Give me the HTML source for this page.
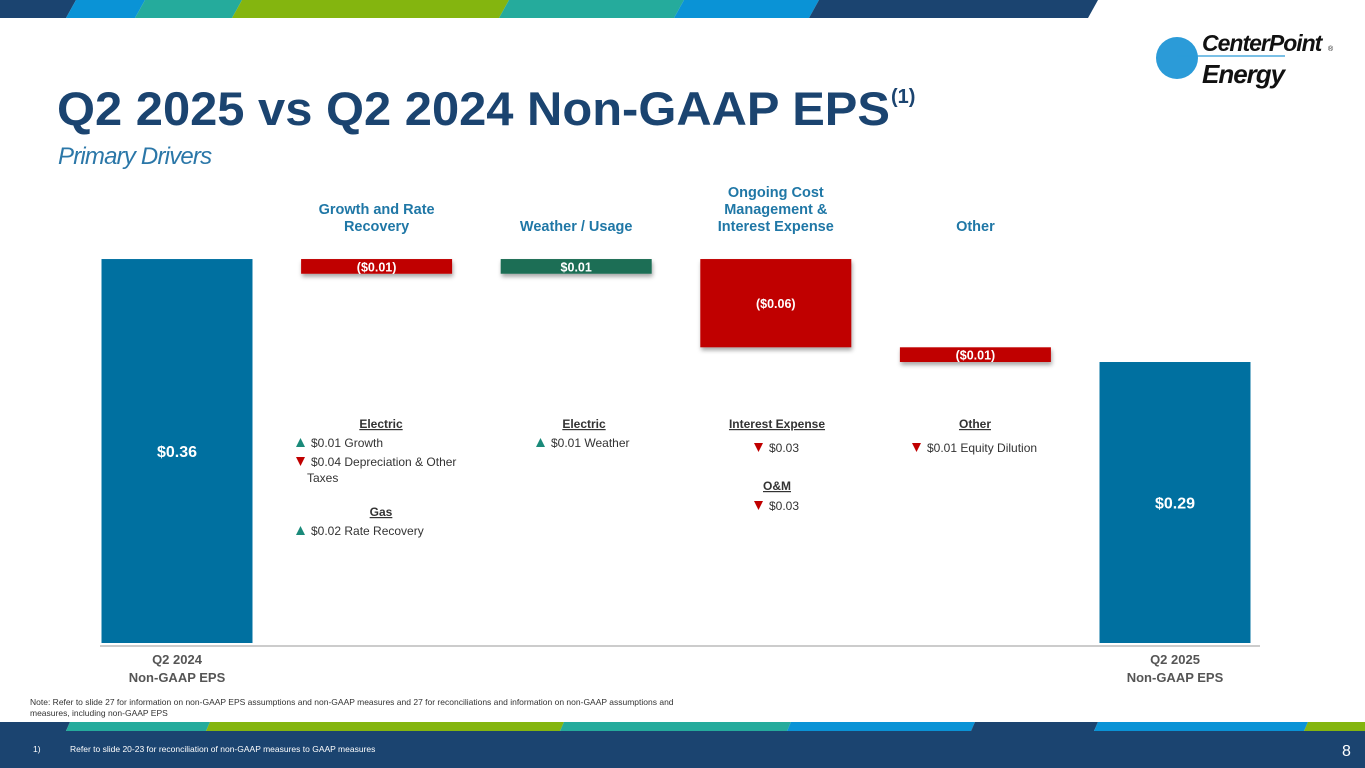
<!DOCTYPE html>
<html><head><meta charset="utf-8"><style>
html,body{margin:0;padding:0;background:#fff;}
svg{display:block;font-family:"Liberation Sans",Arial,sans-serif;}
</style></head><body>
<svg id="s" width="1365" height="768" viewBox="0 0 1365 768" xmlns="http://www.w3.org/2000/svg">
<g>
<polygon points="0,0 76,0 66,18 0,18" fill="#1b4470"/>
<polygon points="76,0 145,0 135,18 66,18" fill="#0a93d6"/>
<polygon points="145,0 242,0 232,18 135,18" fill="#25ab9c"/>
<polygon points="242,0 509,0 499,18 232,18" fill="#84b50f"/>
<polygon points="509,0 684,0 674,18 499,18" fill="#25ab9c"/>
<polygon points="684,0 819,0 809,18 674,18" fill="#0a93d6"/>
<polygon points="819,0 1098,0 1088,18 809,18" fill="#1b4470"/>
</g>
<g>
<circle cx="1177" cy="58" r="21" fill="#2b9bd8"/>
<line x1="1177" y1="56" x2="1285" y2="56" stroke="#2b9bd8" stroke-width="1.2"/>
<text x="1202" y="51" font-size="23" font-weight="bold" font-style="italic" fill="#111" letter-spacing="-1">CenterPoint</text>
<text x="1328" y="51" font-size="7" fill="#111">®</text>
<text x="1202" y="83" font-size="26" font-weight="bold" font-style="italic" fill="#111" letter-spacing="-1">Energy</text>
</g>
<text x="57" y="125" font-size="47" font-weight="bold" fill="#1b4470" textLength="833" lengthAdjust="spacingAndGlyphs">Q2 2025 vs Q2 2024 Non-GAAP EPS</text>
<text x="891" y="103" font-size="20" font-weight="bold" fill="#1b4470">(1)</text>
<text x="58" y="164" font-size="24" font-style="italic" fill="#2b77a8" letter-spacing="-0.8">Primary Drivers</text>
<g id="chart"></g>
<g>
<rect x="0" y="731" width="1365" height="37" fill="#1b4470"/>
<polygon points="0,722 70,722 66,731 0,731" fill="#1b4470"/>
<polygon points="70,722 210,722 206,731 66,731" fill="#25ab9c"/>
<polygon points="210,722 564,722 560,731 206,731" fill="#84b50f"/>
<polygon points="564,722 791,722 787,731 560,731" fill="#25ab9c"/>
<polygon points="791,722 975,722 971,731 787,731" fill="#0a93d6"/>
<polygon points="975,722 1098,722 1094,731 971,731" fill="#1b4470"/>
<polygon points="1098,722 1308,722 1304,731 1094,731" fill="#0a93d6"/>
<polygon points="1308,722 1365,722 1365,731 1304,731" fill="#84b50f"/>
</g>
<text font-size="8.5" fill="#333"><tspan x="30" y="705">Note: Refer to slide 27 for information on non-GAAP EPS assumptions and non-GAAP measures and 27 for reconciliations and information on non-GAAP assumptions and</tspan><tspan x="30" y="716">measures, including non-GAAP EPS</tspan></text>
<text x="33" y="752" font-size="8.5" fill="#fff">1)<tspan x="70">Refer to slide 20-23 for reconciliation of non-GAAP measures to GAAP measures</tspan></text>
<text x="1342" y="756" font-size="16" fill="#fff">8</text>
</svg>
<script>
const categories = ["Q2 2024 Non-GAAP EPS","Growth and Rate Recovery","Weather / Usage","Ongoing Cost Management & Interest Expense","Other","Q2 2025 Non-GAAP EPS"];
const startValue = 0.36;
const deltas = [-0.01, 0.01, -0.06, -0.01];
const endValue = 0.29;
const totalLabels = ["$0.36","$0.29"];
const deltaLabels = ["($0.01)","$0.01","($0.06)","($0.01)"];

const NS="http://www.w3.org/2000/svg";
const g=document.getElementById('chart');
function y(v){return 788.6 - v*1471;}
function x(i){return 177 + i*199.6;}
const bw=151;
function el(tag,attrs,parent){const e=document.createElementNS(NS,tag);for(const k in attrs)e.setAttribute(k,attrs[k]);(parent||g).appendChild(e);return e;}
function txt(s,attrs){const t=el('text',attrs);t.textContent=s;return t;}
const defs=el('defs',{});
const f=el('filter',{id:'sh',x:'-10%',y:'-30%',width:'130%',height:'190%'},defs);
el('feDropShadow',{dx:'1',dy:'3',stdDeviation:'2','flood-color':'#000','flood-opacity':'0.35'},f);

const base=643;
// axis line
const ax=el('line',{x1:100,y1:646,x2:1260,y2:646,stroke:'#999','stroke-width':1});



// start bar
let r=el('rect',{x:x(0)-bw/2,y:y(startValue),width:bw,height:base-y(startValue),fill:'#0070a0'});


let t=txt(totalLabels[0],{x:x(0),y:(y(startValue)+base)/2+6,'text-anchor':'middle','font-size':16,'font-weight':'bold',fill:'#fff'});



let cum=startValue;
deltas.forEach((d,i)=>{
  const a=cum, b=cum+d; cum=b;
  const top=y(Math.max(a,b)), bot=y(Math.min(a,b));
  const rr=el('rect',{x:x(i+1)-bw/2,y:top,width:bw,height:bot-top,fill:d<0?'#c00000':'#1e6e55',filter:'url(#sh)'});
  
  
  const tt=txt(deltaLabels[i],{x:x(i+1),y:(top+bot)/2+5,'text-anchor':'middle','font-size':12.5,'font-weight':'bold',fill:'#fff'});
  
  
});

r=el('rect',{x:x(5)-bw/2,y:y(endValue),width:bw,height:base-y(endValue),fill:'#0070a0'});


t=txt(totalLabels[1],{x:x(5),y:(y(endValue)+base)/2+6,'text-anchor':'middle','font-size':16,'font-weight':'bold',fill:'#fff'});



// category headers
const headers=[[],["Growth and Rate","Recovery"],["Weather / Usage"],["Ongoing Cost","Management &","Interest Expense"],["Other"],[]];
headers.forEach((lines,i)=>{
  if(!lines.length)return;
  const h=el('text',{'text-anchor':'middle','font-size':14.5,'font-weight':'bold',fill:'#1f77a6'});
  
  
  const start=231-(lines.length-1)*17;
  lines.forEach((l,k)=>{const s=el('tspan',{x:x(i),y:start+k*17},h);s.textContent=l;});
});
// x labels
[[0,"Q2 2024","Non-GAAP EPS"],[5,"Q2 2025","Non-GAAP EPS"]].forEach(([i,a,b])=>{
  const h=el('text',{'text-anchor':'middle','font-size':13,'font-weight':'bold',fill:'#555'});
  
  
  const s1=el('tspan',{x:x(i),y:664},h);s1.textContent=a;
  const s2=el('tspan',{x:x(i),y:682},h);s2.textContent=b;
});

// detail text
function head(s,cx,yy,name){const h=txt(s,{x:cx,y:yy,'text-anchor':'middle','font-size':12,'font-weight':'bold',fill:'#333','text-decoration':'underline'});}
function item(up,s,xx,yy,name){
  const tri=up?el('polygon',{points:`${xx},${yy} ${xx+9},${yy} ${xx+4.5},${yy-9}`,fill:'#1a8a7a'}):el('polygon',{points:`${xx},${yy-9} ${xx+9},${yy-9} ${xx+4.5},${yy}`,fill:'#c00000'});
  
  
  const h=txt(s,{x:xx+15,y:yy,'font-size':12,fill:'#333','xml:space':'preserve'});
  
  
}
head("Electric",381,428,'detail-electric-growth');
item(true,"$0.01  Growth",296,447,'detail-growth');
item(false,"$0.04 Depreciation & Other",296,466,'detail-depreciation');
t=txt("Taxes",{x:307,y:482,'font-size':12,fill:'#333'});
head("Gas",381,516,'detail-gas');
item(true,"$0.02 Rate Recovery",296,535,'detail-rate-recovery');
head("Electric",584,428,'detail-electric-weather');
item(true,"$0.01 Weather",536,447,'detail-weather');
head("Interest Expense",777,428,'detail-interest-expense');
item(false,"$0.03",754,452,'detail-interest-value');
head("O&M",777,490,'detail-om');
item(false,"$0.03",754,510,'detail-om-value');
head("Other",975,428,'detail-other');
item(false,"$0.01 Equity Dilution",912,452,'detail-equity-dilution');
</script>
</body></html>
